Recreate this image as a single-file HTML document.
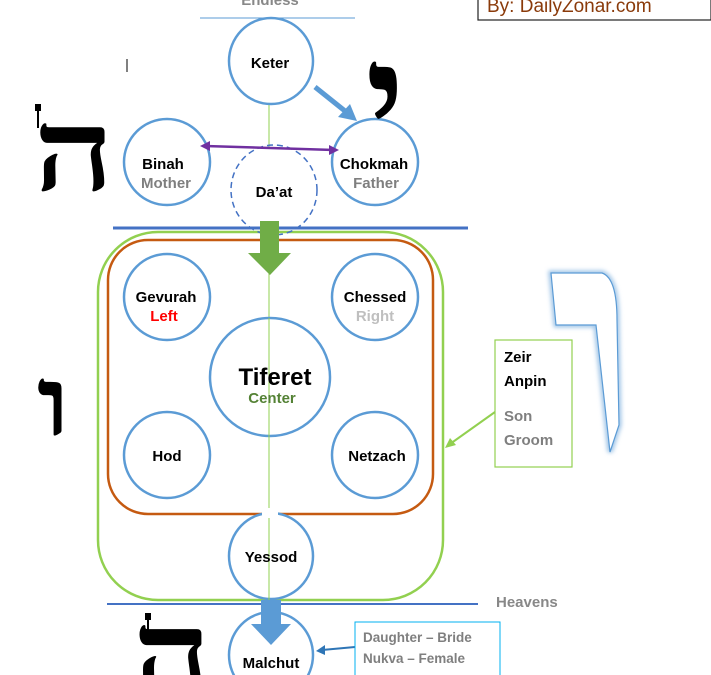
<!DOCTYPE html><html><head><meta charset="utf-8"><style>body{margin:0;background:#fff;overflow:hidden}svg{display:block}</style></head><body>
<svg width="711" height="675" viewBox="0 0 711 675" xmlns="http://www.w3.org/2000/svg" font-family="Liberation Sans, sans-serif" font-weight="bold">
<defs><filter id="gl"><feGaussianBlur stdDeviation="2"/></filter></defs>
<text x="270" y="5" text-anchor="middle" font-size="15" fill="#888">Endless</text>
<line x1="200" y1="18" x2="355" y2="18" stroke="#5b9bd5" stroke-width="1"/>
<rect x="478" y="-5" width="233" height="25" fill="#fff" stroke="#222" stroke-width="1.2"/>
<text x="487" y="12" font-size="19" font-weight="normal" fill="#8a3a0a">By: DailyZonar.com</text>
<line x1="127" y1="59" x2="127" y2="72" stroke="#000"/>
<line x1="269" y1="105" x2="269" y2="148" stroke="#92d050" stroke-width="1"/>
<line x1="269" y1="240" x2="269" y2="600" stroke="#92d050" stroke-width="1"/>
<rect x="98" y="232" width="345" height="368" rx="60" fill="none" stroke="#92d050" stroke-width="2.5"/>
<rect x="108" y="240" width="325" height="274" rx="40" fill="none" stroke="#c55a11" stroke-width="2.5"/>
<line x1="113" y1="228" x2="468" y2="228" stroke="#4472c4" stroke-width="3"/>
<line x1="107" y1="604" x2="478" y2="604" stroke="#4472c4" stroke-width="2"/>
<text x="496" y="607" font-size="15" fill="#888">Heavens</text>
<g fill="#fff" stroke="#5b9bd5" stroke-width="2.5">
<ellipse cx="271" cy="61" rx="42" ry="43"/>
<ellipse cx="167" cy="162" rx="43" ry="43"/>
<ellipse cx="375" cy="162" rx="43" ry="43"/>
<ellipse cx="167" cy="297" rx="43" ry="43"/>
<ellipse cx="375" cy="297" rx="43" ry="43"/>
<ellipse cx="270" cy="377" rx="60" ry="59"/>
<ellipse cx="167" cy="455" rx="43" ry="43"/>
<ellipse cx="375" cy="455" rx="43" ry="43"/>
<ellipse cx="271" cy="556" rx="42" ry="43"/>
<ellipse cx="271" cy="655" rx="42" ry="43"/>
</g>
<ellipse cx="274" cy="190" rx="43" ry="45" fill="none" stroke="#4472c4" stroke-width="1.5" stroke-dasharray="6,4"/>
<line x1="269" y1="318" x2="269" y2="600" stroke="#92d050" stroke-width="1"/>
<rect x="262" y="508" width="16" height="10" fill="#fff"/>
<line x1="315" y1="87" x2="350" y2="115" stroke="#5b9bd5" stroke-width="5"/>
<polygon points="357,121 338,117 350,104" fill="#5b9bd5"/>
<line x1="205" y1="146" x2="334" y2="150" stroke="#7030a0" stroke-width="2.5"/>
<polygon points="200,146 210,141 210,151" fill="#7030a0"/>
<polygon points="339,150 329,145 329,155" fill="#7030a0"/>
<rect x="260" y="221" width="19" height="32" fill="#70ad47"/>
<polygon points="248,253 291,253 270,275" fill="#70ad47"/>
<rect x="261" y="600" width="20" height="25" fill="#5b9bd5"/>
<polygon points="251,624 291,624 271,645" fill="#5b9bd5"/>
<line x1="495" y1="412" x2="450" y2="444" stroke="#92d050" stroke-width="2"/>
<polygon points="445,448 450,438 456,445" fill="#92d050"/>
<line x1="355" y1="647" x2="322" y2="650" stroke="#2e75b6" stroke-width="2"/>
<polygon points="316,651 325,645 325,655" fill="#2e75b6"/>
<g font-size="15" text-anchor="middle" fill="#000">
<text x="270" y="68">Keter</text>
<text x="163" y="169">Binah</text>
<text x="166" y="188" fill="#7f7f7f">Mother</text>
<text x="374" y="169">Chokmah</text>
<text x="376" y="188" fill="#7f7f7f">Father</text>
<text x="274" y="197">Da’at</text>
<text x="166" y="302">Gevurah</text>
<text x="164" y="321" fill="#ff0000">Left</text>
<text x="375" y="302">Chessed</text>
<text x="375" y="321" fill="#bfbfbf">Right</text>
<text x="275" y="385" font-size="24">Tiferet</text>
<text x="272" y="403" fill="#548235">Center</text>
<text x="167" y="461">Hod</text>
<text x="377" y="461">Netzach</text>
<text x="271" y="562">Yessod</text>
<text x="271" y="668">Malchut</text>
</g>
<rect x="495" y="340" width="77" height="127" fill="#fff" stroke="#92d050" stroke-width="1.2"/>
<g font-size="15"><text x="504" y="362">Zeir</text><text x="504" y="386">Anpin</text>
<text x="504" y="421" fill="#7f7f7f">Son</text><text x="504" y="445" fill="#7f7f7f">Groom</text></g>
<rect x="355" y="622" width="145" height="60" fill="#fff" stroke="#00b0f0" stroke-width="1"/>
<g font-size="13.5" fill="#7f7f7f"><text x="363" y="642">Daughter – Bride</text><text x="363" y="663">Nukva – Female</text></g>
<path d="M551,273 L602,273 Q617,278 617,320 L619,425 L610,452 L596,325 L556,325 Z" fill="none" stroke="#9dc3e6" stroke-width="5" filter="url(#gl)"/>
<path d="M551,273 L602,273 Q617,278 617,320 L619,425 L610,452 L596,325 L556,325 Z" fill="#fff" stroke="#5b9bd5" stroke-width="1.2"/>
<g stroke="#000" stroke-width="2"><line x1="38" y1="108" x2="38" y2="128"/><line x1="148" y1="617" x2="148" y2="632"/></g>
<rect x="35" y="104" width="6" height="7" fill="#000"/>
<rect x="145" y="613" width="6" height="7" fill="#000"/>
<g font-family="DejaVu Serif, Liberation Serif, serif" fill="#000" text-anchor="middle">
<text font-size="105" transform="translate(74,190) scale(1.35,1.08)">ה</text>
<text font-size="70" transform="translate(385,156) scale(2.1,2.3)">י</text>
<text font-size="80" transform="translate(54,435) scale(1.7,1.2)">ו</text>
<text font-size="105" transform="translate(172,693) scale(1.3,1.1)">ה</text>
</g>
</svg>
</body></html>
